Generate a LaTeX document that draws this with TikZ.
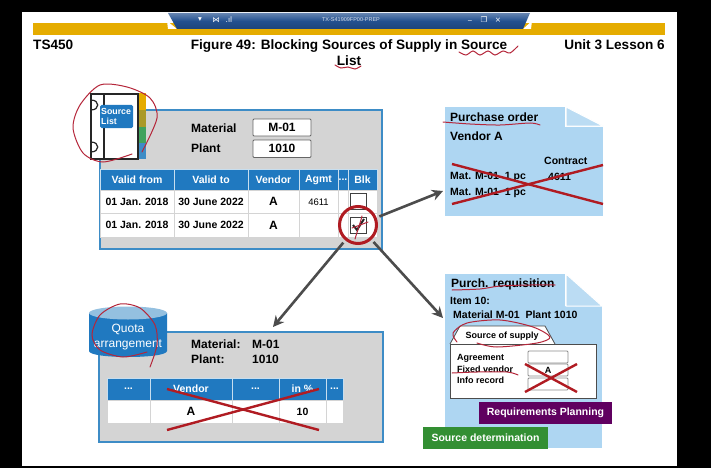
\documentclass[tikz,border=0pt]{standalone}
\usepackage{fontspec}
\setmainfont{Liberation Sans}
\newfontfamily\iconfont{DejaVu Sans}
\usepackage{xcolor}
\usetikzlibrary{arrows.meta,shapes.geometric,calc}
\definecolor{gold}{HTML}{E5AC00}
\definecolor{barblue}{HTML}{23508F}
\definecolor{panelgray}{HTML}{D4D4D4}
\definecolor{panelblue}{HTML}{3D8CC6}
\definecolor{headblue}{HTML}{2079C0}
\definecolor{docblue}{HTML}{AED6F2}
\definecolor{foldblue}{HTML}{BBDCF3}
\definecolor{crossred}{HTML}{B01B22}
\definecolor{penred}{HTML}{B5263A}
\begin{document}
\begin{tikzpicture}[
  x=1pt, y=-1pt,
  font=\bfseries\fontsize{12}{14}\selectfont,
  smallb/.style={font=\bfseries\fontsize{10.5}{12}\selectfont},
  tinyb/.style={font=\bfseries\fontsize{9}{11}\selectfont},
  box/.style={anchor=north west, inner sep=0pt, outer sep=0pt},
  panel/.style={box, draw=panelblue, line width=1.5pt, fill=panelgray},
  doc/.style={box, fill=docblue},
  txt/.style={anchor=west, inner sep=0pt},
  head/.style={box, smallb, fill=headblue, draw=white!75!headblue, line width=.6pt, text=white, minimum height=21pt},
  cell/.style={box, smallb, fill=white, draw=panelgray, line width=1pt, minimum height=23.5pt},
  field/.style={box, fill=white, draw=black!60, line width=.9pt, rounded corners=1pt},
  tick/.style={box, draw=black!75, fill=white, line width=1pt, minimum width=16pt, minimum height=16pt},
  tag/.style={box, smallb, text=white},
  baricon/.style={inner sep=0pt, text=white, font=\iconfont\fontsize{7.5}{8}\selectfont},
  arr/.style={-{Stealth[length=11pt,width=11pt]}, line width=2.6pt, black!70},
  cross/.style={line width=2.4pt, crossred},
  pen/.style={line width=1pt, penred, line cap=round},
]
\useasboundingbox (0,0) rectangle (711,468);
% --- screen, title bar, heading --------------------------------------------
\fill[black] (0,0) rectangle (711,468);
\fill[white] (22,12.5) rectangle (677,466);
\fill[gold] (33,23.5) rectangle (665,35);
\fill[white] (167,21) -- (177,29) -- (168,29) -- cycle;
\fill[white] (532,21) -- (523,29) -- (531,29) -- cycle;
\shade[top color=barblue!70!white, bottom color=barblue!85!black, middle color=barblue] (168,13) -- (530,13) -- (523,29) -- (177,29) -- cycle;
\node[inner sep=0pt, text=white!80!barblue, font=\fontsize{5.5}{6}\selectfont] (barname) at (351,20) {TX-S41909FP00-PREP};
\node[baricon] (iconmenu) at (200,20) {▾};
\node[baricon] (iconpin) at (216,20) {⋈};
\node[baricon] (iconbars) at (229,20) {.ıl};
\node[baricon] (iconmin) at (470,20) {\_};
\node[baricon] (iconmax) at (484,20) {❐};
\node[baricon] (iconclose) at (498,20) {×};
\node[txt, font=\bfseries\fontsize{13.6}{14}\selectfont] (course) at (33,45) {TS450};
\node[font=\bfseries\fontsize{13.6}{16}\selectfont, align=center, inner sep=0pt] (title) at (349,53) {Figure 49: Blocking Sources of Supply in Source\\List};
\node[txt, anchor=east, font=\bfseries\fontsize{13.6}{14}\selectfont] (unit) at (665,45) {Unit 3 Lesson 6};

% --- source list panel -----------------------------------------------------
\node[panel, minimum width=282pt, minimum height=139pt] (listpanel) at (100,110) {};
\fill[gold] (138,93) rectangle (146,110);
\fill[olive!60!gold!80!gray] (138,110) rectangle (146,127);
\fill[teal!45!green!50!gray] (138,127) rectangle (146,143);
\fill[panelblue] (138,143) rectangle (146,159);
\node[box, draw=black!85, fill=white, line width=1.2pt, minimum width=47pt, minimum height=65pt] (binder) at (91,94) {};
\draw[black!85, line width=1.2pt] (104,94) -- (104,159);
\draw[black!85, line width=1.2pt] (91,100) .. controls (100,100) and (100,110) .. (91,110);
\draw[black!85, line width=1.2pt] (91,142) .. controls (100,142) and (100,152) .. (91,152);
\node[box, fill=headblue, rounded corners=1.5pt, minimum width=33pt, minimum height=23pt] (listtag) at (100,105) {};
\node[inner sep=0pt, text=white, font=\fontsize{8.8}{10.5}\selectfont\bfseries, align=left] (listname) at (listtag) {Source\\List\hspace*{15pt}};

\node[txt] (matname) at (191,128) {Material};
\node[txt] (plantname) at (191,148) {Plant};
\node[field, minimum width=58pt, minimum height=17pt] (matfield) at (253,119) {};
\node[inner sep=0pt] (matvalue) at (matfield) {M-01};
\node[field, minimum width=58pt, minimum height=17.5pt] (plantfield) at (253,140) {};
\node[inner sep=0pt] (plantvalue) at (plantfield) {1010};

% --- source list table -----------------------------------------------------
\node[head, minimum width=74pt] (hfrom) at (100,169) {Valid from};
\node[head, minimum width=74pt] (hto) at (174,169) {Valid to};
\node[head, minimum width=51pt] (hvendor) at (248,169) {Vendor};
\node[head, minimum width=39pt] (hagmt) at (299,169) {Agmt};
\node[head, minimum width=10pt] (hdots) at (338,169) {...};
\node[head, minimum width=29pt] (hblk) at (348,169) {Blk};

\node[cell, minimum width=74pt] (afrom) at (100,190) {01 Jan. 2018};
\node[cell, minimum width=74pt] (ato) at (174,190) {30 June 2022};
\node[cell, minimum width=51pt, font=\bfseries\fontsize{12}{14}\selectfont] (avendor) at (248,190) {A};
\node[cell, minimum width=39pt, font=\fontsize{9.5}{11}\selectfont] (aagmt) at (299,190) {4611};
\node[cell, minimum width=10pt] (adots) at (338,190) {};
\node[cell, minimum width=29pt] (ablk) at (348,190) {};

\node[cell, minimum width=74pt] (bfrom) at (100,213.5) {01 Jan. 2018};
\node[cell, minimum width=74pt] (bto) at (174,213.5) {30 June 2022};
\node[cell, minimum width=51pt, font=\bfseries\fontsize{12}{14}\selectfont] (bvendor) at (248,213.5) {A};
\node[cell, minimum width=39pt] (bagmt) at (299,213.5) {};
\node[cell, minimum width=10pt] (bdots) at (338,213.5) {};
\node[cell, minimum width=29pt] (bblk) at (348,213.5) {};

\node[tick] (tickfree) at (350,193) {};
\node[tick] (tickset) at (350,217) {};
\draw[black!85, line width=2pt] (353,225) -- (357,230) -- (364,219);
\draw[pen] (352,228) -- (368,222) (362,216) .. controls (360,224) and (357,232) .. (355,239);
\node[circle, draw=crossred, line width=3pt, minimum size=37pt, inner sep=0pt] (blkmark) at (358,225) {};

% --- purchase order --------------------------------------------------------
\node[doc, minimum width=158pt, minimum height=109pt] (order) at (445,107) {};
\fill[white] (565,105) rectangle (605,127);
\fill[foldblue, draw=white, line width=1pt] (566,107) -- (603,126) -- (566,126) -- cycle;
\node[txt] (ordertitle) at (450,117) {Purchase order};
\node[txt] (ordervendor) at (450,136) {Vendor A};
\node[txt, smallb] (ordercontract) at (544,161) {Contract};
\node[txt, smallb] (orderone) at (450,177) {Mat. M-01\ \ 1 pc};
\node[txt, smallb] (ordertwo) at (450,193) {Mat. M-01\ \ 1 pc};
\node[txt, smallb] (ordernum) at (548,177) {4611};
\draw[cross] (452,164) -- (603,204);
\draw[cross] (452,204) -- (603,165);

% --- purchase requisition --------------------------------------------------
\node[doc, minimum width=157pt, minimum height=174pt] (requisition) at (445,274) {};
\fill[white] (565,272) rectangle (604,306);
\fill[foldblue, draw=white, line width=1pt] (566,274) -- (602,306) -- (566,306) -- cycle;
\node[txt] (reqtitle) at (451,284) {Purch. requisition};
\node[txt, smallb] (reqitem) at (450,301) {Item 10:};
\node[txt, smallb] (reqmat) at (453,315) {Material M-01\ \ Plant 1010};
\draw[black!70, fill=white, line width=.8pt] (450,344) -- (460,326) -- (545,326) -- (555,344);
\node[tinyb, inner sep=0pt] (supplytab) at (502,336) {Source of supply};
\node[box, draw=black!70, fill=white, line width=.8pt, minimum width=146pt, minimum height=54pt] (supplybox) at (450,344) {};
\node[txt, tinyb] (supplyagmt) at (457,358) {Agreement};
\node[txt, tinyb] (supplyvendor) at (457,369) {Fixed vendor};
\node[txt, tinyb] (supplyinfo) at (457,380) {Info record};
\node[field, draw=black!45, minimum width=40pt, minimum height=12pt] (fieldone) at (528,351) {};
\node[field, draw=black!45, minimum width=40pt, minimum height=12pt, tinyb] (fieldtwo) at (528,364) {A};
\node[field, draw=black!45, minimum width=40pt, minimum height=12pt] (fieldthree) at (528,378) {};
\draw[cross] (525,364) -- (577,392);
\draw[cross] (525,392) -- (577,364);
\node[tag, fill=violet!75!black, minimum width=133pt, minimum height=22pt] (planning) at (479,402) {Requirements Planning};
\node[tag, fill=green!45!black!80, minimum width=125pt, minimum height=22pt] (determination) at (423,427) {Source determination};

% --- quota arrangement panel -----------------------------------------------
\node[panel, minimum width=284pt, minimum height=110pt] (quotapanel) at (99,332) {};
\fill[headblue] (89,313) -- (89,351) .. controls (89,359) and (167,359) .. (167,351) -- (167,313) -- cycle;
\node[ellipse, fill=panelblue!55!white, inner sep=0pt, minimum width=78pt, minimum height=13pt] (quotatop) at (128,313) {};
\node[text=white, font=\fontsize{12}{15}\selectfont, align=center, inner sep=0pt] (quotaname) at (128,337) {Quota\\arrangement};
\node[txt] (quotamat) at (191,344) {Material:};
\node[txt] (quotaval) at (252,344) {M-01};
\node[txt] (quotaplant) at (191,359) {Plant:};
\node[txt] (quotanum) at (252,359) {1010};

\node[head, minimum width=43pt, minimum height=22pt] (qone) at (107,378) {...};
\node[head, minimum width=82pt, minimum height=22pt] (qvendor) at (150,378) {Vendor};
\node[head, minimum width=47pt, minimum height=22pt] (qtwo) at (232,378) {...};
\node[head, minimum width=47pt, minimum height=22pt] (qshare) at (279,378) {in \%};
\node[head, minimum width=17pt, minimum height=22pt] (qthree) at (326,378) {...};
\node[cell, minimum width=43pt] (rone) at (107,400) {};
\node[cell, minimum width=82pt, font=\bfseries\fontsize{12}{14}\selectfont] (rvendor) at (150,400) {A};
\node[cell, minimum width=47pt] (rtwo) at (232,400) {};
\node[cell, minimum width=47pt] (rshare) at (279,400) {10};
\node[cell, minimum width=17pt] (rthree) at (326,400) {};
\draw[cross] (167,430) -- (319,389);
\draw[cross] (167,389) -- (319,430);

% --- arrows ----------------------------------------------------------------
\coordinate (ordertip) at (443,191);
\coordinate (quotatip) at (273,327);
\coordinate (reqtip) at (443,318);
\draw[arr, shorten <=3pt] (blkmark) -- (ordertip);
\draw[arr, shorten <=3pt] (blkmark) -- (quotatip);
\draw[arr, shorten <=3pt] (blkmark) -- (reqtip);

% --- pen marks -------------------------------------------------------------
\draw[pen] plot[smooth] coordinates {(142,152) (157,118) (150,98) (127,87) (100,85) (80,105) (73,128) (83,153) (103,162) (132,154)};
\draw[pen] plot[smooth] coordinates {(459,52) (466,55) (473,51) (480,55) (488,51) (495,55) (503,51) (510,53) (518,46)};
\draw[pen] plot[smooth] coordinates {(335,65) (341,68) (348,67) (355,69) (361,66)};
\draw[pen] plot[smooth] coordinates {(443,122) (470,124) (500,125) (530,123) (540,125)};
\draw[pen] plot[smooth] coordinates {(452,290) (480,289) (500,286) (530,285) (555,285)};
\draw[pen] plot[smooth] coordinates {(457,342) (453,333) (467,323) (500,320) (533,327) (550,337) (537,343) (497,347) (477,343)};
\draw[pen] plot[smooth] coordinates {(452,373) (477,372) (507,372) (518,375)};
\draw[pen] plot[smooth] coordinates {(150,367) (157,345) (155,325) (140,308) (120,304) (100,315) (92,335) (100,350) (123,357) (147,352)};
\end{tikzpicture}
\end{document}
